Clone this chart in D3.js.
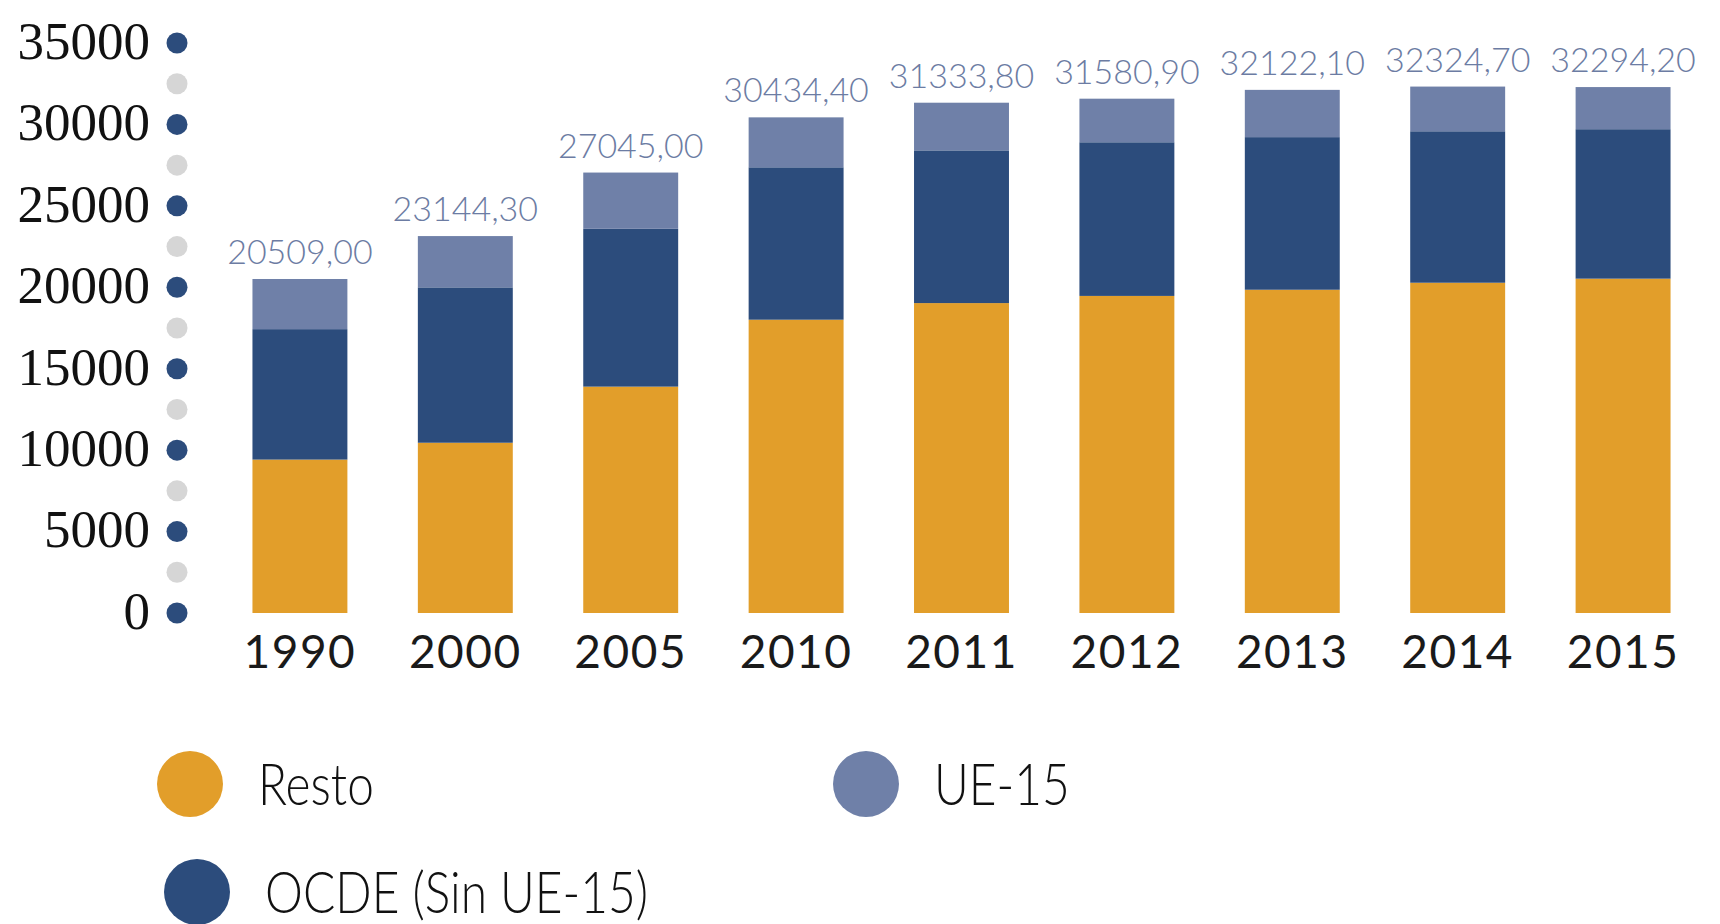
<!DOCTYPE html>
<html>
<head>
<meta charset="utf-8">
<script src="https://cdn.jsdelivr.net/npm/d3@7"></script>
<style>
  body { margin: 0; background: #fff; }
  .ytick { font-family: "Liberation Serif", serif; font-size: 53px; fill: #111; }
  .xtick { font-family: Lato, sans-serif; font-weight: 400; font-size: 46px; fill: #1a1a1a; letter-spacing: 1.5px; }
  .total { font-family: Lato, sans-serif; font-weight: 300; font-size: 34px; fill: #6c7ca3; }
  .legend text { font-family: Lato, sans-serif; font-weight: 300; font-size: 57px; fill: #111; }
</style>
</head>
<body>
<div class="chart"></div>
<script>
var years = ["1990", "2000", "2005", "2010", "2011", "2012", "2013", "2014", "2015"];
var totals = [20509.0, 23144.3, 27045.0, 30434.4, 31333.8, 31580.9, 32122.1, 32324.7, 32294.2];
var resto = [9420, 10455, 13900, 18010, 19030, 19470, 19850, 20280, 20530];
var ocde = [8010, 9540, 9690, 9357, 9376, 9435, 9370, 9300, 9177];
var ue15 = [3079, 3149.3, 3455, 3067.4, 2927.8, 2675.9, 2902.1, 2744.7, 2587.2];
var seriesNames = ["Resto", "OCDE (Sin UE-15)", "UE-15"];

var width = 1720, height = 924;
var colors = {"Resto": "#e29e2a", "OCDE (Sin UE-15)": "#2c4c7c", "UE-15": "#6f80a8"};

var svg = d3.select(".chart").append("svg")
    .attr("width", width)
    .attr("height", height);

var x = d3.scaleBand()
    .domain(years)
    .range([182, 1741])
    .padding(0.426);

var y = d3.scaleLinear()
    .domain([0, 35000])
    .range([613, 43]);

var rows = years.map(function(yr, i) {
    return {year: yr, "Resto": resto[i], "OCDE (Sin UE-15)": ocde[i], "UE-15": ue15[i], total: totals[i]};
});

var stack = d3.stack().keys(seriesNames)(rows);

// axis dots: dark on every 5000, grey half way between
svg.append("g").selectAll("circle")
    .data(d3.range(0, 35001, 2500))
    .enter().append("circle")
    .attr("cx", 177)
    .attr("cy", function(d) { return y(d); })
    .attr("r", 10.5)
    .attr("fill", function(d) { return d % 5000 === 0 ? "#2c4c7c" : "#d6d6d6"; });

svg.append("g").selectAll("text")
    .data(d3.range(0, 35001, 5000))
    .enter().append("text")
    .attr("class", "ytick")
    .attr("x", 150)
    .attr("y", function(d) { return y(d); })
    .attr("dy", "0.3em")
    .attr("text-anchor", "end")
    .text(function(d) { return d; });

svg.append("g").selectAll("g")
    .data(stack)
    .enter().append("g")
    .attr("fill", function(s) { return colors[s.key]; })
    .selectAll("rect")
    .data(function(s) { return s; })
    .enter().append("rect")
    .attr("x", function(d) { return x(d.data.year); })
    .attr("width", x.bandwidth())
    .attr("y", function(d) { return y(d[1]); })
    .attr("height", function(d) { return y(d[0]) - y(d[1]); });

var fmt = d3.format(".2f");
svg.append("g").selectAll("text")
    .data(rows)
    .enter().append("text")
    .attr("class", "total")
    .attr("x", function(d) { return x(d.year) + x.bandwidth() / 2; })
    .attr("y", function(d) { return y(d.total) - 15; })
    .attr("text-anchor", "middle")
    .text(function(d) { return fmt(d.total).replace(".", ","); });

svg.append("g").selectAll("text")
    .data(years)
    .enter().append("text")
    .attr("class", "xtick")
    .attr("x", function(d) { return x(d) + x.bandwidth() / 2; })
    .attr("y", 668)
    .attr("text-anchor", "middle")
    .text(function(d) { return d; });

// legend
var legendPos = [
    {key: "Resto", cx: 190, cy: 784},
    {key: "UE-15", cx: 866, cy: 784},
    {key: "OCDE (Sin UE-15)", cx: 197, cy: 892}
];
var legend = svg.append("g").attr("class", "legend")
    .selectAll("g")
    .data(legendPos)
    .enter().append("g")
    .attr("transform", function(d) { return "translate(" + d.cx + "," + d.cy + ")"; });

legend.append("circle")
    .attr("r", 33)
    .attr("fill", function(d) { return colors[d.key]; });

legend.append("text")
    .attr("transform", "translate(68,21) scale(0.84,1)")
    .text(function(d) { return d.key; });
</script>
</body>
</html>
